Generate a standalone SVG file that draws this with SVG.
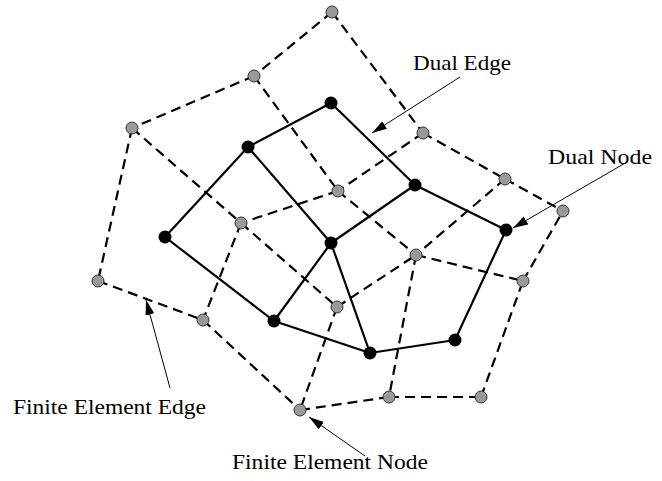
<svg xmlns="http://www.w3.org/2000/svg" width="662" height="481" viewBox="0 0 662 481">
<style>
.fe{stroke:#000;stroke-width:2.2;stroke-dasharray:10 6;fill:none}
.du{stroke:#000;stroke-width:2.2;fill:none}
.gn{fill:#999;stroke:#333;stroke-width:1}
.bn{fill:#000}
.lbl{font-family:"Liberation Serif","Times New Roman",serif;font-size:22px;fill:#000}
.ar{stroke:#000;stroke-width:1;fill:none;marker-end:url(#ah)}
</style>
<defs>
<marker id="ah" markerUnits="userSpaceOnUse" markerWidth="16" markerHeight="10" refX="15" refY="4.5" orient="auto">
<path d="M0,0 L15,4.5 L0,9 Z" fill="#000"/>
</marker>
</defs>
<g id="connectors">
<g id="fe-edges">
<line class="fe" x1="332" y1="12" x2="254" y2="76"/>
<line class="fe" x1="332" y1="12" x2="423" y2="133"/>
<line class="fe" x1="254" y1="76" x2="132" y2="128"/>
<line class="fe" x1="254" y1="76" x2="338" y2="191"/>
<line class="fe" x1="132" y1="128" x2="98" y2="281"/>
<line class="fe" x1="132" y1="128" x2="241" y2="223"/>
<line class="fe" x1="423" y1="133" x2="338" y2="191"/>
<line class="fe" x1="423" y1="133" x2="505" y2="179"/>
<line class="fe" x1="505" y1="179" x2="563" y2="211"/>
<line class="fe" x1="505" y1="179" x2="416" y2="255"/>
<line class="fe" x1="338" y1="191" x2="241" y2="223"/>
<line class="fe" x1="338" y1="191" x2="416" y2="255"/>
<line class="fe" x1="241" y1="223" x2="337" y2="307"/>
<line class="fe" x1="241" y1="223" x2="203" y2="320"/>
<line class="fe" x1="98" y1="281" x2="203" y2="320"/>
<line class="fe" x1="203" y1="320" x2="300" y2="410"/>
<line class="fe" x1="337" y1="307" x2="416" y2="255"/>
<line class="fe" x1="337" y1="307" x2="300" y2="410"/>
<line class="fe" x1="416" y1="255" x2="523" y2="281"/>
<line class="fe" x1="416" y1="255" x2="389" y2="397"/>
<line class="fe" x1="300" y1="410" x2="389" y2="397"/>
<line class="fe" x1="389" y1="397" x2="481" y2="397"/>
<line class="fe" x1="481" y1="397" x2="523" y2="281"/>
<line class="fe" x1="523" y1="281" x2="563" y2="211"/>
</g>
<g id="dual-edges">
<line class="du" x1="331" y1="103" x2="248" y2="147"/>
<line class="du" x1="331" y1="103" x2="415" y2="185"/>
<line class="du" x1="248" y1="147" x2="165" y2="237"/>
<line class="du" x1="248" y1="147" x2="331" y2="243"/>
<line class="du" x1="415" y1="185" x2="331" y2="243"/>
<line class="du" x1="415" y1="185" x2="506" y2="230"/>
<line class="du" x1="165" y1="237" x2="274" y2="321"/>
<line class="du" x1="331" y1="243" x2="274" y2="321"/>
<line class="du" x1="331" y1="243" x2="370" y2="353"/>
<line class="du" x1="506" y1="230" x2="455" y2="340"/>
<line class="du" x1="274" y1="321" x2="370" y2="353"/>
<line class="du" x1="370" y1="353" x2="455" y2="340"/>
</g>
<g id="label-arrows">
<line class="ar" x1="460" y1="77" x2="372" y2="133"/>
<line class="ar" x1="627" y1="162" x2="513" y2="228"/>
<line class="ar" x1="170" y1="388" x2="146" y2="300"/>
<line class="ar" x1="365" y1="456" x2="309" y2="417"/>
</g>
</g>
<g id="fe-nodes">
<circle id="g1" class="gn" cx="332" cy="12" r="6"/>
<circle id="g2" class="gn" cx="254" cy="76" r="6"/>
<circle id="g3" class="gn" cx="132" cy="128" r="6"/>
<circle id="g4" class="gn" cx="423" cy="133" r="6"/>
<circle id="g5" class="gn" cx="338" cy="191" r="6"/>
<circle id="g6" class="gn" cx="505" cy="179" r="6"/>
<circle id="g7" class="gn" cx="563" cy="211" r="6"/>
<circle id="g8" class="gn" cx="241" cy="223" r="6"/>
<circle id="g9" class="gn" cx="416" cy="255" r="6"/>
<circle id="g10" class="gn" cx="98" cy="281" r="6"/>
<circle id="g11" class="gn" cx="523" cy="281" r="6"/>
<circle id="g12" class="gn" cx="337" cy="307" r="6"/>
<circle id="g13" class="gn" cx="203" cy="320" r="6"/>
<circle id="g14" class="gn" cx="300" cy="410" r="6"/>
<circle id="g15" class="gn" cx="389" cy="397" r="6"/>
<circle id="g16" class="gn" cx="481" cy="397" r="6"/>
</g>
<g id="dual-nodes">
<circle id="b1" class="bn" cx="331" cy="103" r="6.5"/>
<circle id="b2" class="bn" cx="248" cy="147" r="6.5"/>
<circle id="b3" class="bn" cx="415" cy="185" r="6.5"/>
<circle id="b4" class="bn" cx="165" cy="237" r="6.5"/>
<circle id="b5" class="bn" cx="331" cy="243" r="6.5"/>
<circle id="b6" class="bn" cx="506" cy="230" r="6.5"/>
<circle id="b7" class="bn" cx="274" cy="321" r="6.5"/>
<circle id="b8" class="bn" cx="370" cy="353" r="6.5"/>
<circle id="b9" class="bn" cx="455" cy="340" r="6.5"/>
</g>
<g id="labels">
<text id="lbl-dual-edge" class="lbl" x="413" y="70" textLength="98" lengthAdjust="spacingAndGlyphs">Dual Edge</text>
<text id="lbl-dual-node" class="lbl" x="548" y="164" textLength="104" lengthAdjust="spacingAndGlyphs">Dual Node</text>
<text id="lbl-fe-edge" class="lbl" x="13" y="414" textLength="193" lengthAdjust="spacingAndGlyphs">Finite Element Edge</text>
<text id="lbl-fe-node" class="lbl" x="232" y="469" textLength="196" lengthAdjust="spacingAndGlyphs">Finite Element Node</text>
</g>
</svg>
